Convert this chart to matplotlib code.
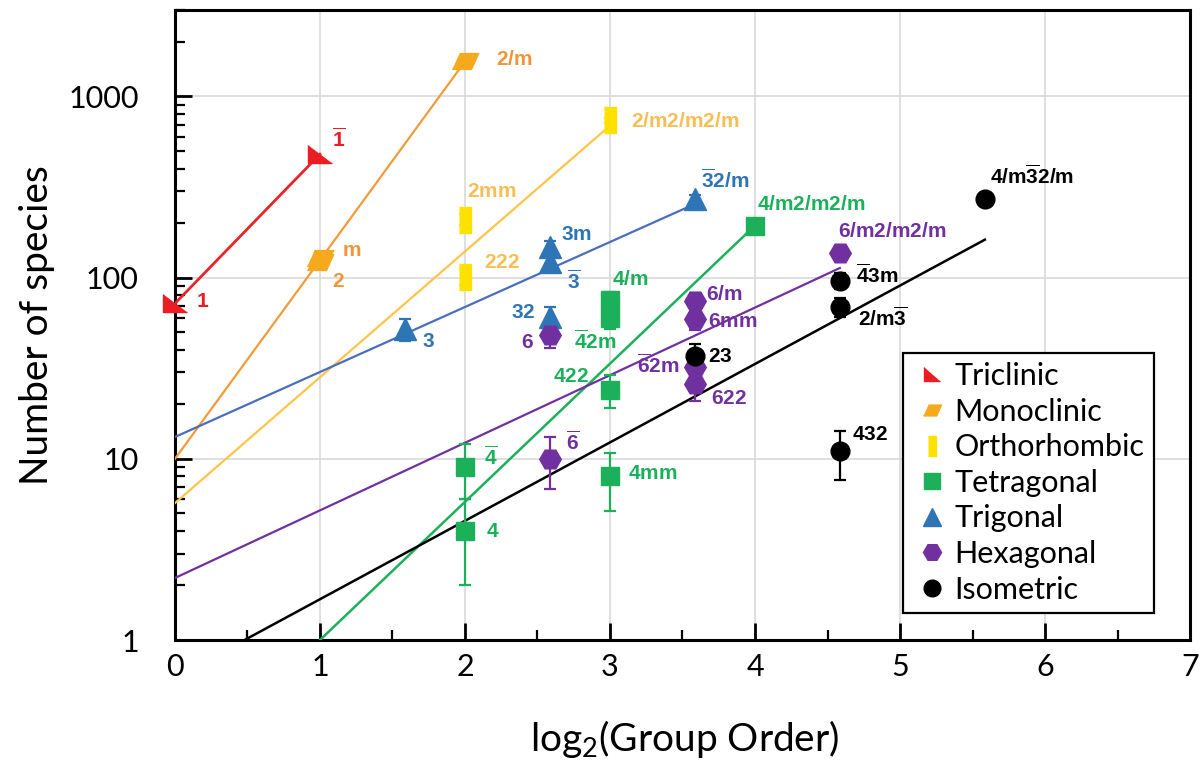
import numpy as np
import matplotlib.pyplot as plt
from matplotlib.lines import Line2D
from matplotlib.ticker import MultipleLocator, LogLocator, NullFormatter

plt.rcParams['font.family'] = ['Lato', 'DejaVu Sans']

# group order and number of species for each point group
tric_order = [1, 2]
tric_n = [72, 480]
tric_lab = ['1', r'\overline{1}']

mono_order = [2, 2, 4]
mono_n = [128, 122, 1560]
mono_lab = ['m', '2', '2/m']

orth_order = [4, 4, 8]
orth_n = [209, 101, 737]
orth_lab = ['2mm', '222', '2/m2/m2/m']

tetr_order = [4, 4, 8, 8, 8, 8, 16]
tetr_n = [4, 9, 75, 60, 24, 8, 194]
tetr_lab = ['4', r'\overline{4}', '4/m', r'\overline{4}2m', '422', '4mm', '4/m2/m2/m']

trig_order = [3, 6, 6, 6, 12]
trig_n = [52, 122, 148, 61, 270]
trig_lab = ['3', r'\overline{3}', '3m', '32', r'\overline{3}2/m']

hexa_order = [6, 6, 12, 12, 12, 12, 24]
hexa_n = [48, 10, 74, 59, 32, 26, 136]
hexa_lab = ['6', r'\overline{6}', '6/m', '6mm', r'\overline{6}2m', '622', '6/m2/m2/m']

isom_order = [12, 24, 24, 24, 48]
isom_n = [37, 96, 69, 11, 273]
isom_lab = ['23', r'\overline{4}3m', r'2/m\overline{3}', '432', r'4/m\overline{3}2/m']

# trend line end points (x = log2 order)
mono_fit_x = [0, 2]
mono_fit_y = [10, 1560]
orth_fit_x = [0, 3]
orth_fit_y = [5.7, 690]
tetr_fit_x = [1, 4]
tetr_fit_y = [1, 194]
trig_fit_x = [0, 3.585]
trig_fit_y = [13.2, 255]
hexa_fit_x = [0, 4.585]
hexa_fit_y = [2.2, 113]
isom_fit_x = [0.48, 5.585]
isom_fit_y = [1, 162]

# label offsets in pixels (dx, dy to baseline, alignment)
tric_off = [(21, -4, 'left'), (12, 7, 'left')]
mono_off = [(22, 2, 'left'), (12, -25, 'left'), (31, -4, 'left')]
orth_off = [(2, 23, 'left'), (19, 9, 'left'), (21, -7, 'left')]
tetr_off = [(21, -6, 'left'), (19, 2, 'left'), (2, 15, 'left'), (-36, -31, 'left'),
            (-21, 8, 'right'), (18, -3, 'left'), (2, 16, 'left')]
trig_off = [(17, -18, 'left'), (17, -27, 'left'), (11, 7, 'left'), (-14, -1, 'right'),
            (6, 12, 'left')]
hexa_off = [(-16, -13, 'right'), (16, 9, 'left'), (11, 1, 'left'), (13, -8, 'left'),
            (-15, -6, 'right'), (16, -20, 'left'), (-2, 16, 'left')]
isom_off = [(13, -6, 'left'), (16, -2, 'left'), (18, -19, 'left'), (12, 11, 'left'),
            (5, 15, 'left')]

m_tric = [(-1, 0.8), (-1, -0.8), (1, -0.8)]
m_mono = [(-1, -0.6), (0.45, -0.6), (1, 0.6), (-0.45, 0.6)]
m_orth = [(-0.45, -1), (0.45, -1), (0.45, 1), (-0.45, 1)]

fig, ax = plt.subplots(figsize=(12.04, 7.70), dpi=100)
fig.subplots_adjust(left=0.1453, right=0.9884, bottom=0.1688, top=0.987)


def series(order, n, marker, ms, color, err=True):
    x = np.log2(order)
    y = np.array(n, dtype=float)
    yerr = np.sqrt(y) if err else None
    ax.errorbar(x, y, yerr=yerr, marker=marker, ms=ms, ls='none',
                color=color, ecolor=color, elinewidth=1.6, capsize=4,
                capthick=1.6, zorder=4, clip_on=False)
    return x, y


def labels(x, y, labs, offs, color):
    for xi, yi, s, (dx, dy, ha) in zip(x, y, labs, offs):
        ax.annotate('$\\mathregular{' + s + '}$', (xi, yi), xytext=(dx, dy),
                    textcoords='offset pixels', ha=ha, va='baseline',
                    color=color, fontsize=15, fontweight='bold',
                    family='Liberation Sans', zorder=5)


# trend lines
ax.plot(np.log2(tric_order), tric_n, color='#E8242A', lw=2, zorder=3)
ax.plot(mono_fit_x, mono_fit_y, color='#F39B3B', lw=1.6, zorder=3)
ax.plot(orth_fit_x, orth_fit_y, color='#FFC54A', lw=1.6, zorder=3)
ax.plot(tetr_fit_x, tetr_fit_y, color='#1DB05A', lw=1.8, zorder=3)
ax.plot(trig_fit_x, trig_fit_y, color='#4A6EBE', lw=1.6, zorder=3)
ax.plot(hexa_fit_x, hexa_fit_y, color='#7030A0', lw=1.6, zorder=3)
ax.plot(isom_fit_x, isom_fit_y, color='black', lw=1.8, zorder=3)

x, y = series(tric_order, tric_n, m_tric, 17, '#EC1C24', err=False)
labels(x, y, tric_lab, tric_off, '#EC1C24')
x, y = series(mono_order, mono_n, m_mono, 19, '#F5A91C')
labels(x, y, mono_lab, mono_off, '#F0953A')
x, y = series(orth_order, orth_n, m_orth, 19, '#FFE100')
labels(x, y, orth_lab, orth_off, '#F7BE55')
x, y = series(tetr_order, tetr_n, 's', 12.5, '#1DB05A')
labels(x, y, tetr_lab, tetr_off, '#1DB05A')
x, y = series(trig_order, trig_n, '^', 15.5, '#2E75B6')
labels(x, y, trig_lab, trig_off, '#2E75B6')
x, y = series(hexa_order, hexa_n, 'H', 15.5, '#7030A0')
labels(x, y, hexa_lab, hexa_off, '#7030A0')
x, y = series(isom_order, isom_n, 'o', 13.5, 'black')
labels(x, y, isom_lab, isom_off, 'black')

ax.set_yscale('log')
ax.set_xlim(0, 7)
ax.set_ylim(1, 3000)
ax.set_xticks(range(8))
ax.xaxis.set_minor_locator(MultipleLocator(0.5))
ax.set_yticks([1, 10, 100, 1000], labels=['1', '10', '100', '1000'])
ax.yaxis.set_minor_locator(LogLocator(base=10, subs=range(2, 10)))
ax.yaxis.set_minor_formatter(NullFormatter())
ax.tick_params(which='both', direction='in', top=False, right=False)
ax.tick_params(which='major', length=12, width=2, labelsize=22)
ax.tick_params(which='minor', length=7, width=1.6)
ax.tick_params(axis='x', which='major', pad=9)
ax.tick_params(axis='y', which='major', pad=26)
for sp in ax.spines.values():
    sp.set_linewidth(2.2)
ax.grid(which='major', color='#D9D9D9', lw=1.2)
ax.set_axisbelow(True)

ax.set_xlabel('log$\\mathregular{_2}$(Group Order)', fontsize=28)
ax.xaxis.set_label_coords(0.502, -0.123)
ax.set_ylabel('Number of species', fontsize=28)
ax.yaxis.set_label_coords(-0.118, 0.5)

handles = [
    Line2D([], [], ls='none', marker=m_tric, ms=12, color='#EC1C24', label='Triclinic'),
    Line2D([], [], ls='none', marker=m_mono, ms=13, color='#F5A91C', label='Monoclinic'),
    Line2D([], [], ls='none', marker=m_orth, ms=14, color='#FFE100', label='Orthorhombic'),
    Line2D([], [], ls='none', marker='s', ms=12, color='#1DB05A', label='Tetragonal'),
    Line2D([], [], ls='none', marker='^', ms=13, color='#2E75B6', label='Trigonal'),
    Line2D([], [], ls='none', marker='H', ms=13, color='#7030A0', label='Hexagonal'),
    Line2D([], [], ls='none', marker='o', ms=12, color='black', label='Isometric'),
]
leg = ax.legend(handles=handles, loc='lower left', bbox_to_anchor=(0.717, 0.043),
                fontsize=22, frameon=True, fancybox=False, framealpha=1,
                edgecolor='black', handlelength=1.3, handletextpad=0.1,
                labelspacing=0.25, borderpad=0.3, borderaxespad=0)
leg.get_frame().set_linewidth(1.6)

fig.savefig('out.png', dpi=100)
